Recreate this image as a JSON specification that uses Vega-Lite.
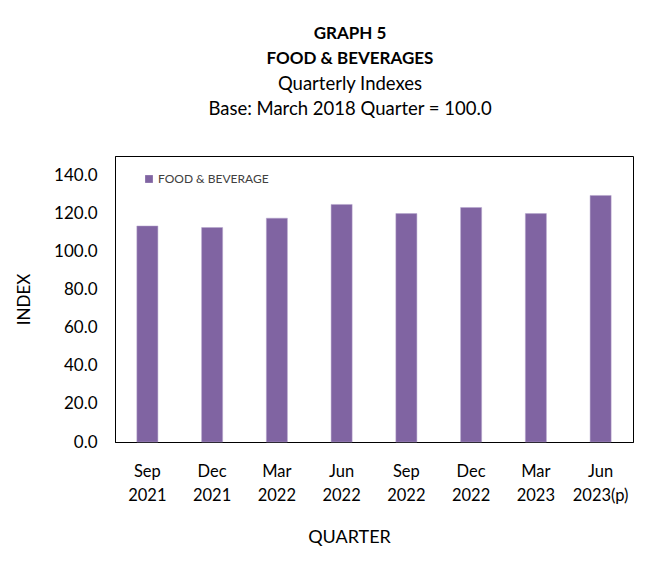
{
  "$schema": "https://vega.github.io/schema/vega-lite/v6.json",
  "width": 518,
  "height": 286,
  "autosize": {"type": "none"},
  "padding": {"left": 115, "top": 156, "right": 24, "bottom": 120},
  "background": "white",
  "title": {
    "text": ["GRAPH  5", "FOOD & BEVERAGES"],
    "subtitle": ["Quarterly Indexes", "Base: March 2018 Quarter = 100.0"],
    "anchor": "middle",
    "frame": "group",
    "dx": -24,
    "offset": 37,
    "font": "Lato",
    "fontSize": 17,
    "fontWeight": "bold",
    "lineHeight": 25,
    "color": "#000000",
    "subtitleFont": "Lato",
    "subtitleFontSize": 18.5,
    "subtitleFontWeight": "normal",
    "subtitleLineHeight": 25,
    "subtitleColor": "#000000",
    "subtitlePadding": 7
  },
  "data": {
    "values": [
      {"quarter": "Sep 2021", "series": "FOOD & BEVERAGE", "index": 113.3},
      {"quarter": "Dec 2021", "series": "FOOD & BEVERAGE", "index": 112.5},
      {"quarter": "Mar 2022", "series": "FOOD & BEVERAGE", "index": 117.4},
      {"quarter": "Jun 2022", "series": "FOOD & BEVERAGE", "index": 124.6},
      {"quarter": "Sep 2022", "series": "FOOD & BEVERAGE", "index": 119.8},
      {"quarter": "Dec 2022", "series": "FOOD & BEVERAGE", "index": 123.0},
      {"quarter": "Mar 2023", "series": "FOOD & BEVERAGE", "index": 119.8},
      {"quarter": "Jun 2023(p)", "series": "FOOD & BEVERAGE", "index": 129.3}
    ]
  },
  "mark": {"type": "bar", "stroke": "#b4a4cc", "strokeWidth": 0.5},
  "encoding": {
    "x": {
      "field": "quarter",
      "type": "nominal",
      "sort": null,
      "scale": {"paddingInner": 0.675, "paddingOuter": 0.3375},
      "axis": {
        "title": "QUARTER",
        "labelAngle": 0,
        "labelExpr": "split(datum.label, ' ')",
        "labelLineHeight": 24,
        "labelPadding": 21,
        "labelFont": "Lato",
        "labelFontSize": 16.5,
        "labelColor": "#000000",
        "ticks": false,
        "domainColor": "#000000",
        "titleFont": "Lato",
        "titleFontSize": 18,
        "titleFontWeight": "normal",
        "titleColor": "#000000",
        "titlePadding": 25,
        "titleX": 234
      }
    },
    "y": {
      "field": "index",
      "type": "quantitative",
      "scale": {"domain": [0, 150], "nice": false},
      "axis": {
        "title": "INDEX",
        "values": [0, 20, 40, 60, 80, 100, 120, 140],
        "format": ".1f",
        "grid": false,
        "ticks": false,
        "labelPadding": 18,
        "labelFont": "Lato",
        "labelFontSize": 17,
        "labelColor": "#000000",
        "domainColor": "#000000",
        "titleFont": "Lato",
        "titleFontSize": 17,
        "titleFontWeight": "normal",
        "titleColor": "#000000",
        "titlePadding": 20
      }
    },
    "color": {
      "field": "series",
      "type": "nominal",
      "scale": {"range": ["#8064A2"]},
      "legend": {
        "title": null,
        "orient": "none",
        "legendX": 28,
        "legendY": 17,
        "symbolType": "square",
        "symbolSize": 60,
        "symbolStrokeWidth": 0,
        "labelFont": "Lato",
        "labelFontSize": 12,
        "labelColor": "#404040",
        "labelOffset": 3
      }
    }
  },
  "config": {
    "view": {"stroke": "#000000", "strokeWidth": 1}
  }
}
